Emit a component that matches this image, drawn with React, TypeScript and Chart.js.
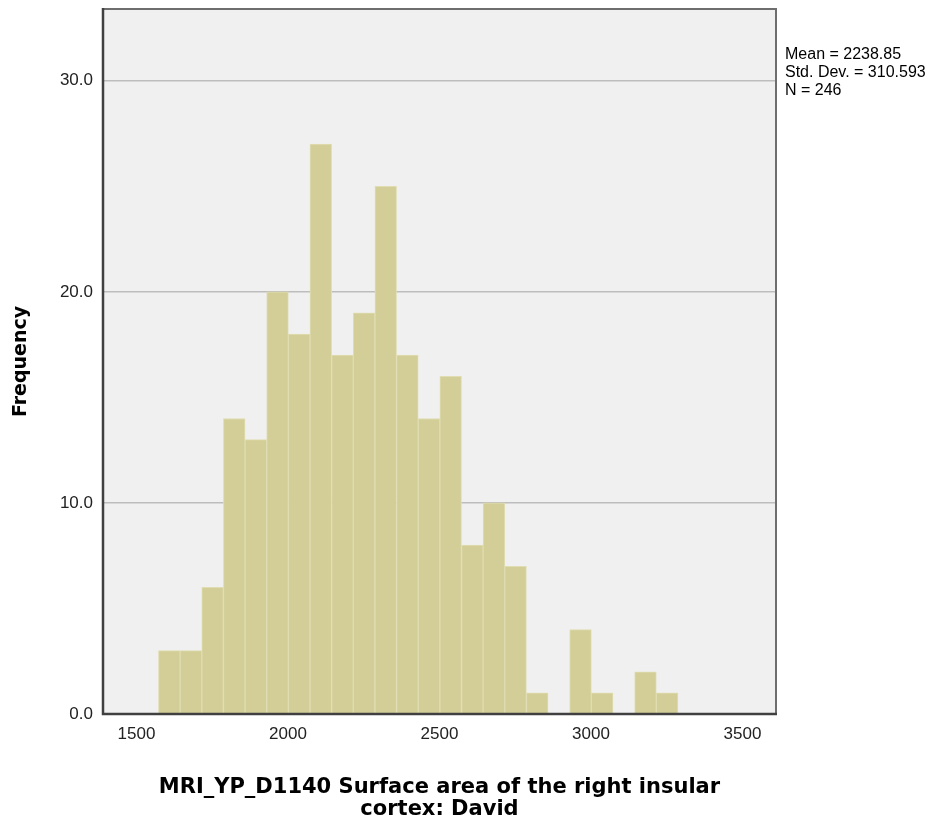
import React, { useEffect, useRef } from "react";
import { Chart, registerables } from "chart.js";

Chart.register(...registerables);

// Histogram bins (bin centres) and frequencies
const BIN_CENTERS = [
  1608.3, 1679.7, 1751.2, 1822.6, 1894.0, 1965.4, 2036.9, 2108.3,
  2179.7, 2251.2, 2322.6, 2394.0, 2465.4, 2536.9, 2608.3, 2679.7,
  2751.1, 2822.6, 2894.0, 2965.4, 3036.8, 3108.3, 3179.7, 3251.1,
];
const COUNTS = [
  3, 3, 6, 14, 13, 20, 18, 27,
  17, 19, 25, 17, 14, 16, 8, 10,
  7, 1, 0, 4, 1, 0, 2, 1,
];
const X_TICKS = [1500, 2000, 2500, 3000, 3500];
const Y_TICKS = [0, 10, 20, 30];
const X_MIN = 1389.5;
const X_MAX = 3610.5;
const Y_MAX = 33.4;

const X_TITLE = ["MRI_YP_D1140 Surface area of the right insular", "cortex: David"];
const Y_TITLE = "Frequency";
const STATS = ["Mean = 2238.85", "Std. Dev. = 310.593", "N = 246"];

const framePlugin = {
  id: "frame",
  beforeDraw(chart: any) {
    const { ctx, chartArea: a } = chart;
    ctx.save();
    ctx.fillStyle = "#F0F0F0";
    ctx.fillRect(a.left, a.top, a.right - a.left, a.bottom - a.top);
    ctx.restore();
  },
  afterDraw(chart: any) {
    const { ctx, chartArea: a } = chart;
    ctx.save();
    ctx.strokeStyle = "#6E6E6E";
    ctx.lineWidth = 2;
    ctx.beginPath();
    ctx.moveTo(a.left, a.top);
    ctx.lineTo(a.right, a.top);
    ctx.lineTo(a.right, a.bottom);
    ctx.stroke();
    ctx.strokeStyle = "#404040";
    ctx.lineWidth = 2.5;
    ctx.beginPath();
    ctx.moveTo(a.left, a.top - 1);
    ctx.lineTo(a.left, a.bottom);
    ctx.lineTo(a.right + 1, a.bottom);
    ctx.stroke();
    ctx.restore();
  },
};

export default function App() {
  const canvasRef = useRef<HTMLCanvasElement | null>(null);

  useEffect(() => {
    const canvas = canvasRef.current;
    if (!canvas) return;
    const chart = new Chart(canvas, {
      type: "bar",
      data: {
        datasets: [
          {
            data: BIN_CENTERS.map((x, i) => ({ x, y: COUNTS[i] })),
            backgroundColor: "#D3CE97",
            borderColor: "#E0DDB2",
            borderWidth: 1,
            barPercentage: 1,
            categoryPercentage: 1,
          } as any,
        ],
      },
      options: {
        responsive: false,
        animation: false,
        layout: { padding: { left: 0, right: 175, top: 9, bottom: 0 } },
        plugins: {
          legend: { display: false },
          tooltip: { enabled: false },
        },
        scales: {
          x: {
            type: "linear",
            min: X_MIN,
            max: X_MAX,
            offset: false,
            grid: { display: false, drawTicks: false },
            border: { display: false },
            afterBuildTicks: (s: any) => {
              s.ticks = X_TICKS.map((v) => ({ value: v }));
            },
            afterFit: (s: any) => {
              s.height = 111;
              s.paddingLeft = 0;
              s.paddingRight = 0;
            },
            ticks: {
              padding: 10,
              color: "#222222",
              font: { family: "'Liberation Sans', Arial, sans-serif", size: 17 },
              maxRotation: 0,
              callback: (v: any) => String(v),
            },
            title: {
              display: true,
              text: X_TITLE,
              color: "#000000",
              font: { family: "'DejaVu Sans', Verdana, sans-serif", size: 21, weight: "bold", lineHeight: "22px" },
              padding: { top: 0, bottom: 4 },
            },
          },
          y: {
            min: 0,
            max: Y_MAX,
            grid: {
              drawTicks: false,
              color: (c: any) => (c.tick && c.tick.value === 0 ? "rgba(0,0,0,0)" : "#BDBDBD"),
              lineWidth: 1.5,
            },
            border: { display: false },
            afterBuildTicks: (s: any) => {
              s.ticks = Y_TICKS.map((v) => ({ value: v }));
            },
            afterFit: (s: any) => {
              s.width = 103;
              s.paddingTop = 0;
              s.paddingBottom = 0;
            },
            ticks: {
              padding: 10,
              color: "#222222",
              font: { family: "'Liberation Sans', Arial, sans-serif", size: 17 },
              callback: (v: any) => Number(v).toFixed(1),
            },
            title: {
              display: true,
              text: Y_TITLE,
              color: "#000000",
              font: { family: "'DejaVu Sans', Verdana, sans-serif", size: 19, weight: "bold", lineHeight: 1.2 },
              padding: { top: 10, bottom: 0 },
            },
          },
        },
      } as any,
      plugins: [framePlugin],
    });
    return () => chart.destroy();
  }, []);

  return (
    <div style={{ position: "absolute", left: 0, top: 0, width: 951, height: 825, background: "#FFFFFF" }}>
      <canvas ref={canvasRef} width={951} height={825} style={{ display: "block", width: 951, height: 825 }} />
      <div
        style={{
          position: "absolute",
          left: 785,
          top: 45,
          fontFamily: "'Liberation Sans', Arial, sans-serif",
          fontSize: 16,
          lineHeight: "18px",
          color: "#000000",
          whiteSpace: "nowrap",
        }}
      >
        {STATS.map((s) => (
          <div key={s}>{s}</div>
        ))}
      </div>
    </div>
  );
}
